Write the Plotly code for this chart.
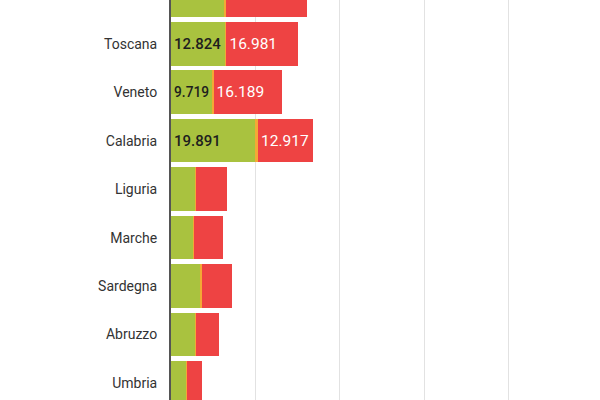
import plotly.graph_objects as go

# regioni, dall'alto verso il basso
regioni = ["Emilia-Romagna", "Toscana", "Veneto", "Calabria", "Liguria",
           "Marche", "Sardegna", "Abruzzo", "Umbria"]
verdi = [12600, 12824, 9719, 19891, 5750, 5280, 7100, 5750, 3550]
arancioni = [500, 300, 350, 700, 250, 250, 250, 250, 200]
rossi = [19170, 16981, 16189, 12917, 7200, 6860, 7100, 5370, 3480]
# quali barre hanno l'etichetta del valore
con_etichetta = [False, True, True, True, False, False, False, False, False]


def etichette(valori):
    return [f"{v:,}".replace(",", ".") if m else "" for v, m in zip(valori, con_etichetta)]


fig = go.Figure()
fig.add_trace(go.Bar(y=regioni, x=verdi, orientation="h", marker_color="#a9c23f",
                     text=etichette(verdi), textposition="inside", insidetextanchor="start",
                     textfont=dict(color="#1e1e1e", size=15, family="Roboto", weight=500),
                     textangle=0))
fig.add_trace(go.Bar(y=regioni, x=arancioni, orientation="h", marker_color="#f3a935"))
fig.add_trace(go.Bar(y=regioni, x=rossi, orientation="h", marker_color="#ee4343",
                     text=etichette(rossi), textposition="inside", insidetextanchor="start",
                     textfont=dict(color="white", size=15.5, family="Roboto"),
                     textangle=0))

fig.update_traces(marker_line_width=0)
fig.update_layout(
    width=600, height=400,
    barmode="stack", bargap=0.1,
    showlegend=False,
    plot_bgcolor="white", paper_bgcolor="white",
    margin=dict(l=171, r=15, t=0, b=0, autoexpand=False),
    font=dict(family="Roboto", size=14, color="#333333"),
)
fig.update_xaxes(range=[0, 98000], dtick=20000, showticklabels=False, automargin=False,
                 showgrid=True, gridcolor="#e2e2e2", gridwidth=1, zeroline=False)
fig.update_yaxes(type="category", range=[8.35, 0.099], showline=True, automargin=False,
                 linecolor="#555555", linewidth=2, ticks="", ticklabelstandoff=9,
                 tickfont=dict(size=14, color="#333333"), showgrid=False)

# niente margine del body, così il grafico parte dall'angolo della pagina
fig.write_html("out.html", config={"displayModeBar": False},
               post_script="document.body.style.margin='0';")
